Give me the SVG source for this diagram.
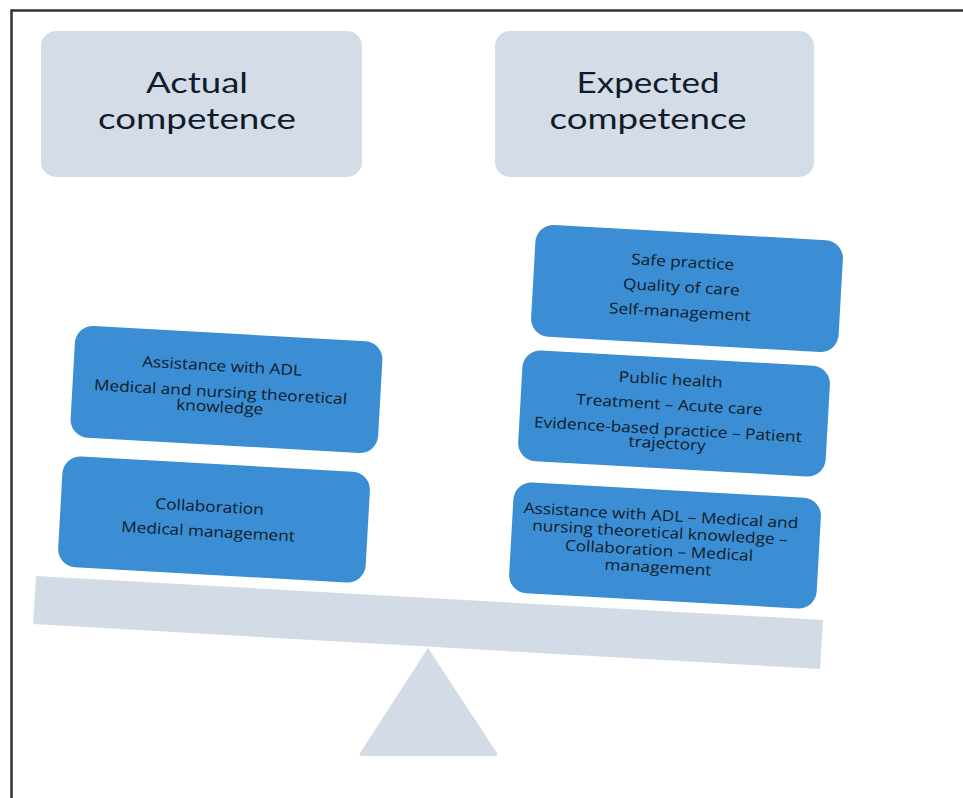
<svg xmlns="http://www.w3.org/2000/svg" width="963" height="798" viewBox="0 0 963 798">
  <style>
    .hdr { fill: #d4dde7; }
    .card { fill: #3b8ed3; }
    .scale-part { fill: #d3dce6; }
    .frame { fill: none; stroke: #333333; stroke-width: 2.5; }
    text { font-family: "Open Sans", "Noto Sans", sans-serif; text-anchor: middle; fill: #111b29; }
    .big { font-family: Lato, "Open Sans", sans-serif; font-size: 29px; }
    .small { font-size: 15px; }
  </style>
  <rect width="963" height="798" fill="#ffffff"/>
  <path class="frame" d="M11.5 798 V10.5 H963"/>

  <!-- header boxes -->
  <g id="actual-competence">
    <rect class="hdr" x="41" y="31" width="321" height="146" rx="15"/>
    <text class="big" x="197" y="93" textLength="102" lengthAdjust="spacingAndGlyphs">Actual</text>
    <text class="big" x="197" y="129" textLength="198" lengthAdjust="spacingAndGlyphs">competence</text>
  </g>
  <g id="expected-competence">
    <rect class="hdr" x="495" y="31" width="319" height="146" rx="15"/>
    <text class="big" x="648" y="93" textLength="143" lengthAdjust="spacingAndGlyphs">Expected</text>
    <text class="big" x="648" y="129" textLength="197" lengthAdjust="spacingAndGlyphs">competence</text>
  </g>

  <!-- balance: beam and fulcrum -->
  <g id="balance">
    <polygon class="scale-part" points="36,576 823,620 820,669 33,624"/>
    <path class="scale-part" d="M428 648 L497 753 Q498 756 495 756 L362 756 Q359 756 360 753 Z"/>
  </g>

  <!-- left pan cards -->
  <g id="actual-adl" transform="translate(226.5 389.5) rotate(3.2)">
    <rect class="card" x="-154" y="-56" width="308" height="112" rx="18"/>
    <g transform="scale(1.15 1)">
      <text class="small" x="-5" y="-18">Assistance with ADL</text>
      <text class="small" x="-5" y="8">Medical and nursing theoretical</text>
      <text class="small" x="-5" y="23">knowledge</text>
    </g>
  </g>
  <g id="actual-collaboration" transform="translate(214 520) rotate(3.2)">
    <rect class="card" x="-154" y="-56" width="308" height="111" rx="18"/>
    <g transform="scale(1.15 1)">
      <text class="small" x="-4.5" y="-8">Collaboration</text>
      <text class="small" x="-4.5" y="17">Medical management</text>
    </g>
  </g>

  <!-- right pan cards -->
  <g id="expected-safe" transform="translate(687 288.5) rotate(3.2)">
    <rect class="card" x="-154" y="-56" width="308" height="112" rx="18"/>
    <g transform="scale(1.15 1)">
      <text class="small" x="-5" y="-21">Safe practice</text>
      <text class="small" x="-5" y="4">Quality of care</text>
      <text class="small" x="-5" y="29">Self-management</text>
    </g>
  </g>
  <g id="expected-public-health" transform="translate(674 414) rotate(3.2)">
    <rect class="card" x="-154" y="-56" width="308" height="111" rx="18"/>
    <g transform="scale(1.15 1)">
      <text class="small" x="-4.5" y="-29">Public health</text>
      <text class="small" x="-4.5" y="-4">Treatment – Acute care</text>
      <text class="small" x="-4.5" y="21">Evidence-based practice – Patient</text>
      <text class="small" x="-4.5" y="35">trajectory</text>
    </g>
  </g>
  <g id="expected-combined" transform="translate(665 546) rotate(3.2)">
    <rect class="card" x="-154" y="-56" width="308" height="111" rx="18"/>
    <g transform="scale(1.15 1)">
      <text class="small" x="-5" y="-25">Assistance with ADL  – Medical and</text>
      <text class="small" x="-5" y="-8">nursing theoretical knowledge –</text>
      <text class="small" x="-5" y="10">Collaboration – Medical</text>
      <text class="small" x="-5" y="27">management</text>
    </g>
  </g>
</svg>
